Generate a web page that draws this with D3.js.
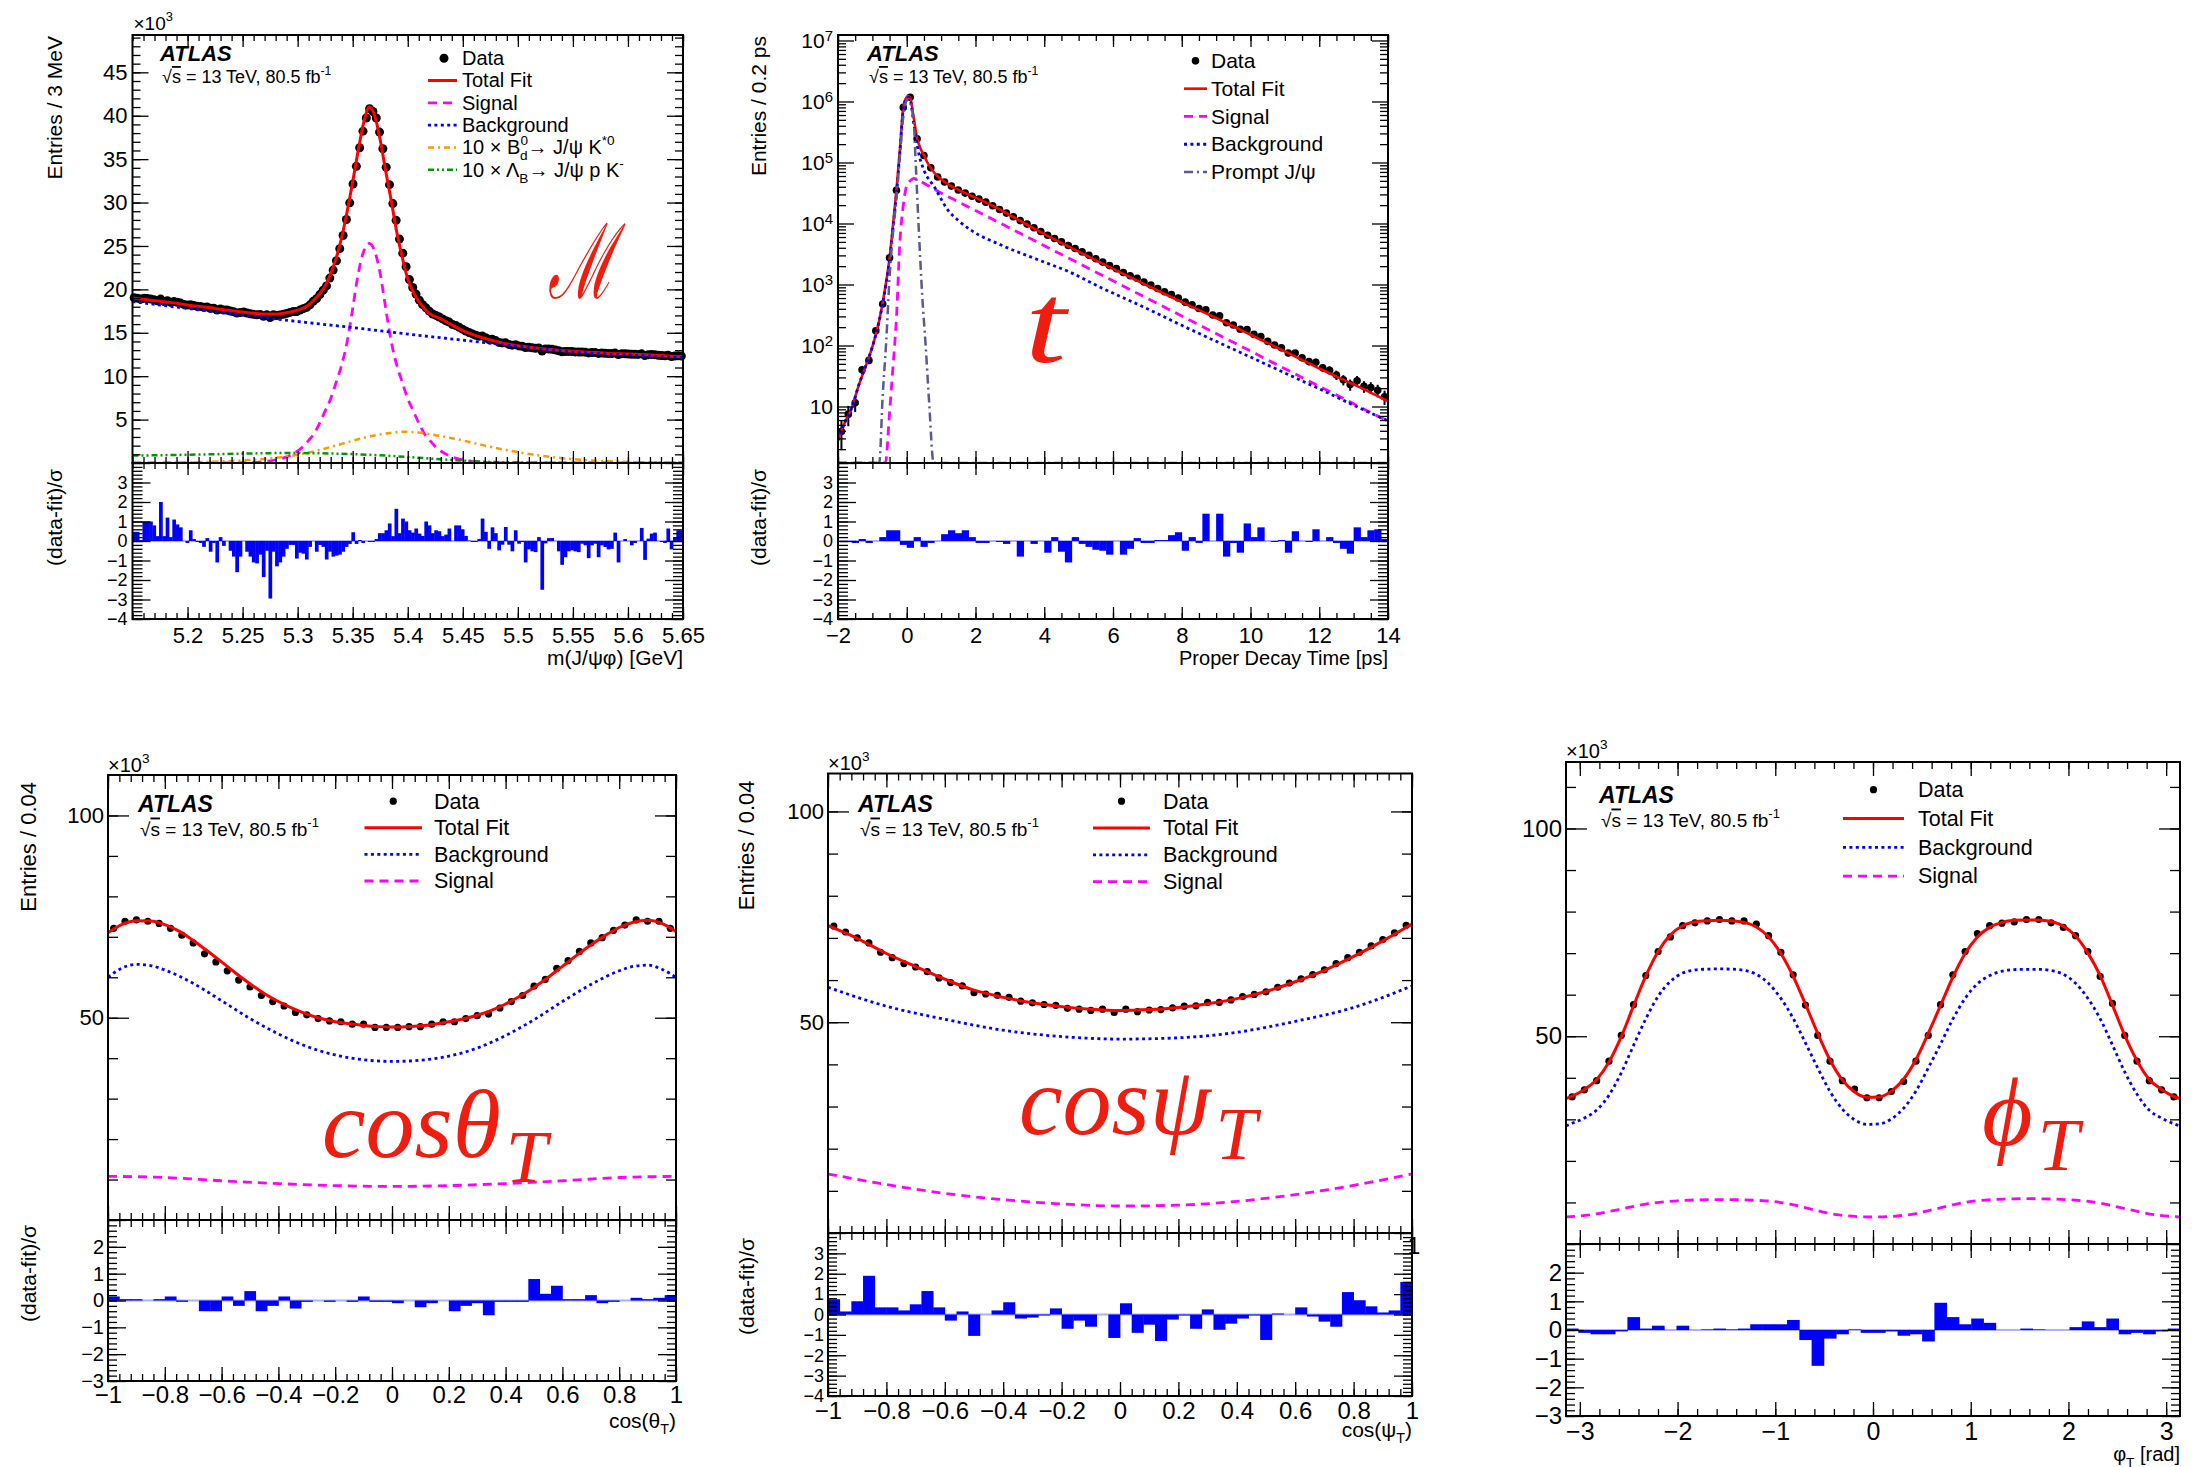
<!DOCTYPE html>
<html>
<head>
<meta charset="utf-8">
<script src="https://cdn.jsdelivr.net/npm/d3@7"></script>
<style>
  body { margin: 0; background: #fff; }
  svg text { font-family: 'Liberation Sans', Arial, Helvetica, sans-serif; fill: #000; }
</style>
</head>
<body>
<script>
// ---------------- m(J/psi phi) ----------------
const massRange = [5.15, 5.65];
const massData = [19.04,18.99,18.89,18.98,18.94,18.89,18.81,18.69,18.88,18.60,
  18.69,18.51,18.59,18.51,18.42,18.27,18.20,18.23,18.13,18.06,
  18.02,17.94,17.96,17.82,17.82,17.62,17.74,17.63,17.62,17.50,
  17.42,17.27,17.33,17.39,17.28,17.19,17.12,17.07,17.10,16.91,
  17.08,16.76,17.08,16.99,17.06,17.14,17.23,17.35,17.44,17.44,
  17.61,17.78,17.92,18.22,18.62,18.93,19.40,19.91,20.40,21.30,
  22.22,23.30,24.69,26.21,28.05,29.97,32.14,34.17,36.31,38.22,
  39.74,40.81,40.49,39.74,38.12,36.20,34.06,32.06,29.88,27.95,
  25.79,24.17,22.60,21.13,20.21,19.46,18.76,18.24,17.87,17.49,
  17.16,17.00,16.82,16.60,16.39,16.23,15.94,15.83,15.64,15.42,
  15.21,15.03,14.87,14.72,14.61,14.62,14.43,14.21,14.24,14.10,
  13.89,13.83,13.84,13.66,13.57,13.63,13.49,13.45,13.29,13.32,
  13.27,13.21,13.26,12.90,13.14,13.13,13.09,13.03,12.93,12.82,
  12.84,12.85,12.84,12.80,12.78,12.79,12.77,12.68,12.73,12.72,
  12.62,12.66,12.64,12.60,12.60,12.67,12.49,12.59,12.58,12.56,
  12.52,12.52,12.51,12.57,12.37,12.48,12.49,12.48,12.41,12.38,
  12.35,12.41,12.27,12.32,12.34,12.32];
const massPull = [0.47,0.47,0.05,1.0,1.0,1.0,0.8,0.25,2.0,0.25,
  1.2,0.2,1.1,0.85,0.7,0,-0.1,0.55,0.1,-0.05,
  -0.1,-0.3,0.15,-0.55,-0.1,-1.1,0.2,-0.25,0,-0.5,
  -0.8,-1.6,-0.8,0,-0.55,-0.8,-1.1,-1.15,-0.7,-1.85,
  -0.5,-2.95,-0.55,-1.3,-1.1,-0.8,-0.4,-0.2,-0.2,-0.9,
  -0.6,-0.65,-0.95,-0.3,0,-0.55,-0.2,-0.3,-0.95,-0.55,
  -0.8,-0.75,-0.7,-0.55,-0.3,-0.15,0.45,-0.15,0.05,-0.1,
  0,-0.05,-0.05,0.1,0.4,0.4,0.55,0.9,0.25,1.65,
  0.4,1.15,1.0,0.55,0.43,0.64,0.38,0.26,1.0,0.8,
  0.4,0.55,0.5,0.25,0.33,0.64,0,0.8,0.8,0.6,
  0.26,0.02,-0.05,-0.05,0.1,1.15,0.47,-0.4,0.7,0.4,
  -0.48,-0.19,0.72,-0.19,-0.53,0.55,-0.14,-0.05,-1.1,-0.43,
  -0.53,-0.57,0.2,-2.5,-0.12,0.15,0.15,0,-0.53,-1.22,
  -0.83,-0.53,-0.48,-0.53,-0.57,-0.14,-0.22,-0.88,-0.22,-0.14,
  -0.83,-0.22,-0.31,-0.43,-0.4,0.43,-1.1,0,0.1,0,
  -0.22,-0.1,0,0.67,-0.97,0.12,0.38,0.43,0,-0.05,
  -0.1,0.64,-0.43,0.2,0.55,0.55];
const massFitX = [5.15,5.16,5.17,5.18,5.19,5.20,5.21,5.22,5.23,5.24,5.25,5.26,5.27,5.28,5.29,5.30,
  5.31,5.315,5.32,5.325,5.33,5.335,5.34,5.345,5.35,5.355,5.36,5.365,5.37,5.375,5.38,5.385,5.39,5.395,
  5.40,5.405,5.41,5.415,5.42,5.43,5.44,5.45,5.46,5.47,5.48,5.49,5.50,5.52,5.54,5.56,5.58,5.60,5.62,5.64,5.65];
const massFit = [19.0,18.85,18.7,18.55,18.4,18.2,18.05,17.9,17.7,17.55,17.4,17.25,17.15,17.15,17.3,17.6,
  18.2,18.8,19.5,20.4,21.8,23.6,26.0,29.0,32.4,36.0,39.2,41.0,40.0,37.2,33.6,30.2,26.6,23.7,
  21.2,19.7,18.6,17.8,17.2,16.6,15.9,15.25,14.75,14.35,14.0,13.7,13.5,13.2,12.95,12.8,12.65,12.55,12.45,12.3,12.25];
const massSigX = [5.15,5.245,5.265,5.275,5.285,5.295,5.305,5.31,5.315,5.32,5.325,5.33,5.335,5.34,5.345,5.35,5.355,5.36,
  5.365,5.37,5.375,5.38,5.385,5.39,5.395,5.40,5.405,5.41,5.415,5.42,5.425,5.435,5.445,5.455,5.465,5.485,5.65];
const massSig = [0,0.02,0.1,0.25,0.5,1.0,1.9,2.6,3.4,4.6,6.0,7.4,9.3,11.3,14.0,17.8,21.8,24.4,
  25.3,24.4,21.8,17.8,14.0,11.3,9.3,7.4,6.0,4.6,3.4,2.6,1.9,1.0,0.5,0.25,0.1,0.02,0];
const massBkgX = [5.15,5.2,5.25,5.3,5.35,5.4,5.45,5.5,5.55,5.6,5.65];
const massBkg = [18.6,17.8,17.05,16.3,15.6,14.85,14.15,13.45,12.8,12.45,12.15];
const massBdX = [5.15,5.2,5.25,5.28,5.3,5.32,5.34,5.36,5.38,5.395,5.41,5.43,5.45,5.47,5.5,5.53,5.56,5.6,5.65];
const massBd = [0.02,0.08,0.3,0.6,0.95,1.5,2.2,2.9,3.4,3.6,3.5,3.1,2.6,2.0,1.25,0.7,0.35,0.12,0.03];
const massLbX = [5.15,5.2,5.25,5.29,5.32,5.35,5.38,5.41,5.44,5.47,5.5,5.55,5.65];
const massLb = [0.85,0.95,1.08,1.15,1.12,1.02,0.85,0.6,0.35,0.15,0.06,0.01,0];
const massXTicks = [5.2,5.25,5.3,5.35,5.4,5.45,5.5,5.55,5.6,5.65];
const massYTicks = [5,10,15,20,25,30,35,40,45];

// ---------------- proper decay time ----------------
const timeRange = [-2, 14];
const timeData = [3.9,7.5,11.5,40,57,175,480,2750,35000,800000,
  1170000,245000,130000,82000,58000,48000,41000,35500,31500,28000,
  25100,22400,19500,17000,14800,12900,11150,9770,8510,7410,
  6430,5690,5000,4350,3890,3430,3010,2650,2330,2040,
  1820,1575,1395,1265,1100,977,861,759,684,600,
  514,466,405,386,316,306,236,217,185,182,
  152,140,117,102,91.6,75.2,75.2,63.1,54.6,53.3,
  43.2,39.3,32.9,27.4,22.9,26.5,21.4,20.5,18.4,14.4];
const timePull = [0,0,-0.1,0.1,-0.1,0,0.2,0.55,0.55,-0.2,
  -0.35,0.2,-0.3,-0.1,0,0.35,0.55,0.4,0.55,0.2,
  -0.1,-0.1,0,-0.05,-0.15,0,-0.8,0,-0.15,0,
  -0.6,0.2,-0.55,-1.1,0.2,-0.15,-0.3,-0.45,-0.5,-0.7,
  0,-0.7,-0.4,0.15,-0.1,-0.1,0.05,0.05,0.3,0.45,
  -0.5,0.2,-0.1,1.4,0,1.4,-0.8,-0.1,-0.6,0.9,
  0.2,0.7,0,-0.05,0.05,-0.6,0.5,0,-0.05,0.6,
  0,0.2,-0.1,-0.4,-0.65,0.7,0.2,0.55,0.6,0.1];
const timeFitX = [-2,-1.8,-1.6,-1.4,-1.2,-1.0,-0.8,-0.6,-0.5,-0.4,-0.3,-0.2,-0.1,0,0.05,0.1,0.2,0.3,0.4,0.5,0.6,0.8,1.0,1.25,1.5,2,2.5,3,4,5,6,7,8,9,10,11,12,13,14];
const timeFit = [2.8,5.5,9.5,22,45,95,260,1100,2700,9500,35000,160000,800000,1180000,1230000,1150000,550000,250000,170000,130000,100000,68000,53000,42000,35500,26500,19500,13700,6700,3450,1800,960,515,282,150,80,42,23,12.2];
const timeBkgX = [-2,-1.8,-1.6,-1.4,-1.2,-1.0,-0.8,-0.6,-0.5,-0.4,-0.3,-0.2,-0.1,0,0.05,0.1,0.2,0.35,0.5,0.8,1.2,1.5,1.85,2.8,3.8,4.75,5.6,7,8,9,10,11,12,13,14];
const timeBkg = [2.8,5.5,9.5,22,45,95,255,1050,2500,8500,30000,145000,740000,1130000,1170000,1080000,450000,140000,75000,40000,16500,11200,7900,4300,2570,1590,920,400,214,117,64.6,35.5,19.5,10.5,5.8];
const timeSigX = [-2,-0.7,-0.62,-0.5,-0.4,-0.3,-0.2,-0.1,0,0.1,0.2,0.3,0.5,0.75,1,1.5,2,3,4,5,6,7,8,9,10,11,12,13,14];
const timeSig = [0.001,0.001,1.2,8,45,280,5000,20000,42000,50000,55000,53000,45700,38000,31600,22700,16300,8400,4330,2230,1150,592,305,157,81,41.7,21.5,11.1,5.7];
const timePromptX = [-2,-0.9,-0.8,-0.7,-0.6,-0.5,-0.4,-0.3,-0.2,-0.1,0,0.05,0.1,0.2,0.26,0.35,0.45,0.55,0.65,0.78,0.9,14];
const timePrompt = [0.001,0.001,1.2,15,110,1300,7000,26000,125000,560000,1050000,1100000,950000,500000,100000,8000,660,100,12,1.2,0.001,0.001];
const timeXTicks = [-2,0,2,4,6,8,10,12,14];
const timeYTicks = [10,1e2,1e3,1e4,1e5,1e6,1e7];

// ---------------- cos(theta_T) ----------------
const cthData = [72.1,73.85,74.2,73.85,73.3,72.1,70.4,68.5,65.8,63.8,
  61.6,59.3,57.6,55.5,54.0,52.9,51.3,50.7,49.8,49.2,
  49.0,48.4,48.4,47.6,47.6,47.6,47.8,47.8,48.4,49.0,
  49.0,49.8,50.5,50.9,52.4,54.0,55.5,57.8,59.5,62.2,
  64.1,66.4,68.5,69.8,71.6,72.9,74.2,73.85,73.85,72.1];
const cthPull = [0.15,0.05,0.05,0,0.05,0.15,-0.05,0,-0.4,-0.4,
  0.15,-0.2,0.35,-0.4,-0.2,0.15,-0.3,-0.05,0,-0.05,
  0,-0.05,0.15,-0.05,-0.05,-0.1,0,-0.25,-0.1,0,
  -0.4,-0.2,-0.1,-0.55,-0.05,-0.05,-0.05,0.8,0.25,0.55,
  0.05,0.05,0.2,-0.1,-0.05,0,0.1,0.05,0.1,0.2];
const cthFitX = [-1,-0.95,-0.9,-0.85,-0.8,-0.75,-0.7,-0.65,-0.6,-0.55,-0.5,-0.45,-0.4,-0.35,-0.3,-0.25,-0.2,-0.15,-0.1,-0.05,
  0,0.05,0.1,0.15,0.2,0.25,0.3,0.35,0.4,0.45,0.5,0.55,0.6,0.65,0.7,0.75,0.8,0.85,0.9,0.95,1];
const cthFit = [71.0,73.1,74.0,73.9,73.0,71.4,69.1,66.5,63.8,61.0,58.4,56.0,54.0,52.3,50.9,49.8,49.0,48.5,48.1,47.8,
  47.7,47.8,48.0,48.4,49.0,49.7,50.6,51.8,53.4,55.3,57.5,60.0,62.7,65.4,68.0,70.3,72.3,73.6,74.1,73.3,71.3];
const cthBkgX = [-1,-0.95,-0.9,-0.85,-0.8,-0.7,-0.6,-0.5,-0.4,-0.3,-0.2,-0.1,0,0.1,0.2,0.3,0.4,0.5,0.6,0.7,0.8,0.85,0.9,0.95,1];
const cthBkg = [60.0,62.3,63.2,62.9,61.8,58.5,54.2,49.8,46.0,42.9,40.8,39.6,39.2,39.5,40.5,42.5,45.6,49.5,54.0,58.2,61.6,62.7,63.0,62.0,60.0];
const cthSigX = [-1,-0.8,-0.6,-0.4,-0.2,0,0.2,0.4,0.6,0.8,1];
const cthSig = [10.8,10.5,9.7,9.0,8.5,8.3,8.5,9.0,9.7,10.5,10.8];

// ---------------- cos(psi_T) ----------------
const cpsData = [72.8,71.4,70.0,68.8,66.6,65.3,63.9,63.1,62.0,60.5,
  59.4,58.6,57.0,56.7,56.4,55.9,55.0,54.6,54.2,54.0,
  53.3,53.1,52.8,53.1,52.3,53.1,52.5,52.9,53.0,53.4,
  53.8,53.9,54.7,54.7,55.3,56.1,56.6,57.2,58.3,59.3,
  60.3,61.3,62.4,63.9,65.3,66.6,68.1,69.6,71.2,73.0];
const cpsPull = [0.75,0.15,0.65,1.9,0.35,0.35,0.2,0.5,1.15,0.35,
  -0.3,0.15,-1.05,0,0.2,0.6,-0.2,-0.15,-0.05,0.3,
  -0.7,-0.3,-0.6,0,-1.15,0.55,-0.9,-0.5,-1.3,-0.25,
  -0.05,-0.7,0.25,-0.75,-0.45,-0.2,-0.05,-1.25,0.05,0,
  0.35,-0.1,-0.35,-0.6,1.1,0.7,0.4,0.1,0.2,1.6];
const cpsFitX = [-1,-0.9,-0.8,-0.7,-0.6,-0.5,-0.4,-0.3,-0.2,-0.1,0,0.1,0.2,0.3,0.4,0.5,0.6,0.7,0.8,0.9,1];
const cpsFit = [72.9,69.9,66.3,63.2,60.2,57.6,55.9,54.6,53.7,53.1,52.8,53.0,53.5,54.4,55.6,57.3,59.6,62.3,65.6,69.3,73.3];
const cpsBkgX = [-1,-0.8,-0.6,-0.4,-0.2,0,0.2,0.4,0.6,0.8,1];
const cpsBkg = [58.3,53.8,50.7,48.1,46.6,46.0,46.3,47.6,50.2,53.5,58.6];
const cpsSigX = [-1,-0.8,-0.6,-0.4,-0.2,0,0.2,0.4,0.6,0.8,1];
const cpsSig = [14.0,11.5,9.4,7.9,6.9,6.4,6.6,7.5,9.1,11.3,14.0];

// ---------------- phi_T ----------------
const phiRange = [-Math.PI, Math.PI];
const phiData = [35.4,37.1,39.3,44.0,50.2,57.6,64.6,70.4,73.9,76.6,
  77.3,77.75,78.1,77.75,77.75,77.0,74.2,70.2,64.8,57.5,
  50.2,44.0,39.3,37.3,35.2,35.2,36.7,39.1,44.0,50.2,
  57.6,64.8,70.4,74.7,76.6,77.2,77.5,78.1,78.1,77.3,
  76.2,74.2,70.4,64.4,57.9,50.2,44.0,39.3,37.1,35.4];
const phiPull = [0.05,-0.1,-0.15,-0.15,-0.05,0.45,0.05,0.15,0,0.15,
  0,0.02,0.05,0.02,0.05,0.2,0.2,0.2,0.35,-0.35,
  -1.25,-0.3,-0.15,0.02,-0.1,-0.1,-0.05,-0.2,-0.15,-0.4,
  0.95,0.45,0.2,0.4,0.25,0,0,0.05,0.02,0,
  0,0.1,0.3,0.1,0.4,-0.15,-0.1,-0.15,-0.05,0.05];
// fit and background: value at the left edge, at each bin centre, at the right edge
const phiFit = [35.0,35.6,37.2,39.6,43.8,49.9,57.3,64.5,70.4,74.4,76.6,
  77.5,77.8,77.9,77.8,77.4,76.3,73.9,69.9,64.4,57.7,
  50.7,44.3,39.5,36.6,35.3,35.4,36.8,39.7,44.4,50.7,
  57.4,64.2,69.9,73.9,76.2,77.4,77.9,78.0,78.0,77.6,
  76.5,74.1,70.0,64.6,57.5,50.2,44.1,39.6,37.2,35.5,35.0];
const phiBkg = [28.4,29.05,30.3,32.25,35.8,41.2,47.8,54.2,59.6,63.2,65.2,
  65.95,66.15,66.2,66.15,65.85,64.9,62.7,59.1,54.3,48.4,
  42.35,36.7,32.5,29.9,28.8,28.9,30.1,32.7,36.8,42.35,
  48.1,54.1,59.1,62.6,64.6,65.65,66.05,66.1,66.1,65.8,
  64.9,62.75,59.1,54.2,47.9,41.4,36.05,32.2,30.3,28.95,28.4];
const phiSigX = [-Math.PI,-2.9,-2.6,-2.3,-2.0,-1.57,-1.1,-0.85,-0.6,-0.35,0,0.35,0.6,0.85,1.1,1.6,2.1,2.35,2.6,2.9,Math.PI];
const phiSig = [6.5,7.0,8.3,9.7,10.4,10.7,10.4,9.6,8.2,7.0,6.5,7.0,8.2,9.6,10.5,10.9,10.5,9.7,8.4,7.0,6.5];

const cosXTicks = [-1,-0.8,-0.6,-0.4,-0.2,0,0.2,0.4,0.6,0.8,1];
const phiXTicks = [-3,-2,-1,0,1,2,3];
const angYTicks = [50,100];
const pullTicks4 = [3,2,1,0,-1,-2,-3,-4];
const pullTicks3 = [2,1,0,-1,-2,-3];

// ---------------- drawing ----------------
const RED = '#ee1d0f';
const SERIF = "'Liberation Serif','Times New Roman',serif";
const ST = {
  fit: { c: '#ff0000', w: 3 },
  sig: { c: '#ff00ff', w: 2.8, d: '9,6' },
  bkg: { c: '#0000ff', w: 2.8, d: '3,3.4' },
  bd: { c: '#ff9900', w: 2.5, d: '6,4,2,4' },
  lb: { c: '#009900', w: 2.5, d: '6,3,2,3,2,3' },
  prompt: { c: '#5a5a8c', w: 2.5, d: '9,4,2,4' }
};

const svg = d3.select('body').append('svg').attr('width', 2209).attr('height', 1467);
let clipN = 0;

function clip(x0, y0, w, h) {
  const id = 'clip' + (++clipN);
  svg.append('clipPath').attr('id', id).append('rect')
    .attr('x', x0).attr('y', y0).attr('width', w).attr('height', h);
  return `url(#${id})`;
}

// text with sub/superscripts: parts are strings or {t, sup, sub, dx, over}
function rich(t, parts) {
  const fs = +t.attr('font-size');
  let cur = 0;
  parts.forEach(p => {
    if (typeof p === 'string') p = { t: p };
    const target = p.sup ? -0.45 : p.sub ? 0.3 : 0;
    const ts = t.append('tspan').text(p.t).attr('dy', (target - cur) * fs);
    if (p.sup || p.sub) ts.attr('font-size', fs * 0.68);
    if (p.dx) ts.attr('dx', p.dx);
    if (p.over) ts.style('text-decoration', 'overline');
    cur = target;
  });
  return t;
}

function text(g, x, y, fs, parts, anchor) {
  const t = g.append('text').attr('x', x).attr('y', y).attr('font-size', fs)
    .attr('text-anchor', anchor || 'start');
  return rich(t, parts);
}

function ytitle(g, x, y, fs, parts) {
  const t = g.append('text').attr('transform', `translate(${x},${y}) rotate(-90)`)
    .attr('font-size', fs).attr('text-anchor', 'end');
  return rich(t, parts);
}

// frame with inward ticks on all four sides
function frame(g, x, y, o) {
  const [xl, xr] = x.range(), [yb, yt] = y.range();
  const put = (axis, tx, ty) => {
    const a = g.append('g').attr('transform', `translate(${tx},${ty})`).call(axis);
    a.select('.domain').remove();
    a.selectAll('line').attr('stroke', '#000').attr('stroke-width', 1.3);
  };
  [[d3.axisBottom, yb], [d3.axisTop, yt]].forEach(([f, ty]) => {
    put(f(x).tickValues(o.xMin).tickSize(-o.xLen[1]).tickFormat(''), 0, ty);
    put(f(x).tickValues(o.xMaj).tickSize(-o.xLen[0]).tickFormat(''), 0, ty);
  });
  [[d3.axisLeft, xl], [d3.axisRight, xr]].forEach(([f, tx]) => {
    put(f(y).tickValues(o.yMin).tickSize(-o.yLen[1]).tickFormat(''), tx, 0);
    put(f(y).tickValues(o.yMaj).tickSize(-o.yLen[0]).tickFormat(''), tx, 0);
  });
  g.append('rect').attr('x', xl).attr('y', yt).attr('width', xr - xl).attr('height', yb - yt)
    .attr('fill', 'none').attr('stroke', '#000').attr('stroke-width', 2);
}

function labelAxis(g, axis, tx, ty, fs) {
  const a = g.append('g').attr('transform', `translate(${tx},${ty})`).call(axis);
  a.select('.domain').remove();
  a.selectAll('line').remove();
  a.selectAll('text').attr('font-size', fs).attr('font-family', null).attr('fill', '#000');
  return a;
}

function curve(g, xs, ys, x, y, st, cp) {
  g.append('path').datum(xs.map((v, i) => [v, ys[i]]))
    .attr('d', d3.line().x(d => x(d[0])).y(d => y(d[1])).curve(d3.curveMonotoneX))
    .attr('fill', 'none').attr('stroke', st.c).attr('stroke-width', st.w)
    .attr('stroke-dasharray', st.d || null).attr('clip-path', cp);
}

function dots(g, vals, range, x, y, r) {
  const w = (range[1] - range[0]) / vals.length;
  g.append('g').selectAll('circle').data(vals).join('circle')
    .attr('cx', (d, i) => x(range[0] + (i + 0.5) * w)).attr('cy', d => y(d))
    .attr('r', r).attr('fill', '#000');
}

function pulls(g, vals, range, x, yr, cp) {
  const w = (range[1] - range[0]) / vals.length;
  g.append('line').attr('x1', x.range()[0]).attr('x2', x.range()[1])
    .attr('y1', yr(0)).attr('y2', yr(0)).attr('stroke', '#aab2ff').attr('stroke-width', 2);
  g.append('g').attr('clip-path', cp).selectAll('rect').data(vals).join('rect')
    .attr('x', (d, i) => x(range[0] + i * w))
    .attr('width', (d, i) => x(range[0] + (i + 1) * w) - x(range[0] + i * w) + 0.4)
    .attr('y', d => Math.min(yr(0), yr(d)))
    .attr('height', d => Math.abs(yr(d) - yr(0)))
    .attr('fill', '#0000ff');
}

function legend(g, items, o) {
  items.forEach((it, i) => {
    const by = o.y0 + i * o.dy, my = by - o.fs * 0.34;
    if (it.dot) {
      g.append('circle').attr('cx', o.dotX).attr('cy', my).attr('r', it.dot).attr('fill', '#000');
    } else {
      g.append('line').attr('x1', o.x0).attr('x2', o.x1).attr('y1', my).attr('y2', my)
        .attr('stroke', it.st.c).attr('stroke-width', it.st.w).attr('stroke-dasharray', it.st.d || null);
    }
    text(g, o.tx, by, o.fs, it.label);
  });
}

function atlas(g, x, y, fs, fs2, dy) {
  g.append('text').attr('x', x).attr('y', y).attr('font-size', fs)
    .attr('font-weight', 'bold').attr('font-style', 'italic').text('ATLAS');
  text(g, x + 2, y + dy, fs2, ['√', { t: 's', over: 1 }, ' = 13 TeV, 80.5 fb', { t: '-1', sup: 1 }]);
}

// big red variable name in serif italic, with optional subscript T
function tag(g, x, y, fs, main, sub, sx) {
  const t = g.append('text').attr('transform', `translate(${x},${y}) scale(${sx || 1},1)`)
    .attr('font-size', fs).attr('font-style', 'italic')
    .style('font-family', SERIF).style('fill', RED);
  t.append('tspan').text(main);
  if (sub) t.append('tspan').attr('font-size', fs * 0.76).attr('dx', fs * 0.05).attr('dy', fs * 0.25).text(sub);
  return t;
}

const fmtCos = d => Number.isInteger(d) ? d3.format('d')(d) : d3.format('.1f')(d);
const fmtInt = d3.format('d');

// ================= panel 1: mass =================
{
  const L = 132.5, R = 683, T = 35, S = 463, B = 619;
  const g = svg.append('g');
  const x = d3.scaleLinear(massRange, [L, R]);
  const y = d3.scaleLinear([0, 49.3], [S, T]);
  const yr = d3.scaleLinear([-4, 4], [B, S]);
  const cm = clip(L, T, R - L, S - T), cr = clip(L, S, R - L, B - S);

  dots(g, massData, massRange, x, y, 4.5);
  curve(g, massFitX, massFit, x, y, ST.fit, cm);
  curve(g, massSigX, massSig, x, y, ST.sig, cm);
  curve(g, massBkgX, massBkg, x, y, ST.bkg, cm);
  curve(g, massBdX, massBd, x, y, ST.bd, cm);
  curve(g, massLbX, massLb, x, y, ST.lb, cm);
  pulls(g, massPull, massRange, x, yr, cr);

  const xMin = d3.range(5.15, 5.6501, 0.01);
  frame(g, x, y, { xMaj: massXTicks, xMin, xLen: [12, 6], yMaj: massYTicks, yMin: d3.range(1, 50), yLen: [16, 8] });
  frame(g, x, yr, { xMaj: massXTicks, xMin, xLen: [12, 6], yMaj: d3.range(-4, 5), yMin: d3.range(-4, 4.01, 0.2), yLen: [18, 10] });

  labelAxis(g, d3.axisLeft(y).tickValues(massYTicks).tickSize(0).tickPadding(5), L, 0, 22);
  labelAxis(g, d3.axisLeft(yr).tickValues(pullTicks4).tickSize(0).tickPadding(5).tickFormat(fmtInt), L, 0, 18);
  labelAxis(g, d3.axisBottom(x).tickValues(massXTicks).tickSize(0).tickPadding(8).tickFormat(d3.format('~g')), 0, B, 22);

  text(g, L + 1, 30, 19, ['×10', { t: '3', sup: 1 }]);
  ytitle(g, 62, 36, 21, ['Entries / 3 MeV']);
  ytitle(g, 62, 469, 21, ['(data-fit)/σ']);
  text(g, R, 665, 21, ['m(J/ψφ) [GeV]'], 'end');

  atlas(g, 160, 61, 22, 18, 22);
  legend(g, [
    { dot: 4.5, label: ['Data'] },
    { st: ST.fit, label: ['Total Fit'] },
    { st: ST.sig, label: ['Signal'] },
    { st: ST.bkg, label: ['Background'] },
    { st: ST.bd, label: ['10 × B', { t: '0', sup: 1 }, { t: 'd', sub: 1, dx: -8 }, '→ J/ψ K', { t: '*0', sup: 1 }] },
    { st: ST.lb, label: ['10 × Λ', { t: 'B', sub: 1 }, '→ J/ψ p K', { t: '-', sup: 1 }] }
  ], { y0: 65, dy: 22.3, fs: 20, x0: 428, x1: 457, dotX: 444, tx: 462 });

  // script M for the mass
  g.append('text').attr('transform', 'translate(548,298) scale(0.56,1)').attr('font-size', 104)
    .attr('font-style', 'italic').style('fill', RED).text('ℳ');
}

// ================= panel 2: decay time =================
{
  const L = 838, R = 1388, T = 35, S = 463, B = 619;
  const g = svg.append('g');
  const x = d3.scaleLinear(timeRange, [L, R]);
  const y = d3.scaleLog([1.186, 1.23e7], [S, T]).clamp(true);
  const yr = d3.scaleLinear([-4, 4], [B, S]);
  const cm = clip(L, T, R - L, S - T + 1), cr = clip(L, S, R - L, B - S);

  // statistical error bars
  const w = (timeRange[1] - timeRange[0]) / timeData.length;
  g.append('g').selectAll('line').data(timeData).join('line')
    .attr('x1', (d, i) => x(timeRange[0] + (i + 0.5) * w)).attr('x2', (d, i) => x(timeRange[0] + (i + 0.5) * w))
    .attr('y1', d => y(Math.max(d - Math.sqrt(d), 1e-3))).attr('y2', d => y(d + Math.sqrt(d)))
    .attr('stroke', '#000').attr('stroke-width', 2);
  dots(g, timeData, timeRange, x, y, 3.8);
  curve(g, timeFitX, timeFit, x, y, { c: '#ff0000', w: 2.6 }, cm);
  curve(g, timeSigX, timeSig, x, y, ST.sig, cm);
  curve(g, timeBkgX, timeBkg, x, y, ST.bkg, cm);
  curve(g, timePromptX, timePrompt, x, y, ST.prompt, cm);
  pulls(g, timePull, timeRange, x, yr, cr);

  const yMin = [];
  for (let e = 0; e <= 6; e++) for (let k = 2; k <= 9; k++) yMin.push(k * Math.pow(10, e));
  const xMin = d3.range(-2, 14.01, 0.5);
  frame(g, x, y, { xMaj: timeXTicks, xMin, xLen: [12, 6], yMaj: timeYTicks, yMin, yLen: [16, 8] });
  frame(g, x, yr, { xMaj: timeXTicks, xMin, xLen: [12, 6], yMaj: d3.range(-4, 5), yMin: d3.range(-4, 4.01, 0.2), yLen: [18, 10] });

  labelAxis(g, d3.axisLeft(y).tickValues(timeYTicks).tickSize(0).tickPadding(5).tickFormat(''), L, 0, 21)
    .selectAll('text').each(function (d) {
      const t = d3.select(this);
      const e = Math.round(Math.log10(d));
      t.append('tspan').text('10');
      if (e > 1) t.append('tspan').attr('dy', '-0.45em').attr('font-size', 15).text(e);
    });
  labelAxis(g, d3.axisLeft(yr).tickValues(pullTicks4).tickSize(0).tickPadding(5).tickFormat(fmtInt), L, 0, 18);
  labelAxis(g, d3.axisBottom(x).tickValues(timeXTicks).tickSize(0).tickPadding(8).tickFormat(fmtInt), 0, B, 22);

  ytitle(g, 766, 36, 21, ['Entries / 0.2 ps']);
  ytitle(g, 766, 469, 21, ['(data-fit)/σ']);
  text(g, R, 665, 20, ['Proper Decay Time [ps]'], 'end');

  atlas(g, 867, 61, 22, 18, 22);
  legend(g, [
    { dot: 3.8, label: ['Data'] },
    { st: { c: '#ff0000', w: 2.6 }, label: ['Total Fit'] },
    { st: ST.sig, label: ['Signal'] },
    { st: ST.bkg, label: ['Background'] },
    { st: ST.prompt, label: ['Prompt J/ψ'] }
  ], { y0: 68, dy: 27.8, fs: 21, x0: 1184, x1: 1207, dotX: 1195.5, tx: 1211 });

  tag(g, 1025, 362, 114, 't', null, 1.3);
}

// ================= angular panels =================
function angular(o) {
  const { L, R, T, S, B } = o;
  const g = svg.append('g');
  const x = d3.scaleLinear(o.range, [L, R]);
  const y = d3.scaleLinear([0, o.yTop], [S, T]);
  const yr = d3.scaleLinear(o.rDom, [B, S]);
  const cm = clip(L, T, R - L, S - T), cr = clip(L, S, R - L, B - S);

  dots(g, o.data, o.range, x, y, 3.6);
  curve(g, o.fitX, o.fit, x, y, ST.fit, cm);
  curve(g, o.bkgX, o.bkg, x, y, ST.bkg, cm);
  curve(g, o.sigX, o.sig, x, y, ST.sig, cm);
  pulls(g, o.pull, o.range, x, yr, cr);

  frame(g, x, y, { xMaj: o.xTicks, xMin: o.xMin, xLen: [14, 7], yMaj: angYTicks, yMin: d3.range(10, o.yTop, 10), yLen: [21, 10] });
  frame(g, x, yr, { xMaj: o.xTicks, xMin: o.xMin, xLen: [14, 7], yMaj: d3.range(o.rDom[0], o.rDom[1] + 1), yMin: d3.range(o.rDom[0], o.rDom[1] + 0.01, 0.2), yLen: [18, 9] });

  labelAxis(g, d3.axisLeft(y).tickValues(angYTicks).tickSize(0).tickPadding(4), L, 0, o.yfs);
  labelAxis(g, d3.axisLeft(yr).tickValues(o.rTicks).tickSize(0).tickPadding(4).tickFormat(fmtInt), L, 0, o.rfs);
  labelAxis(g, d3.axisBottom(x).tickValues(o.xTicks).tickSize(0).tickPadding(o.xpad).tickFormat(o.fmt), 0, B, o.xfs);

  text(g, L, o.expY, 20, ['×10', { t: '3', sup: 1 }]);
  if (o.ytX) {
    ytitle(g, o.ytX, T + 7, 22, ['Entries / 0.04']);
    ytitle(g, o.ytX, S + 5, 21, ['(data-fit)/σ']);
  }
  text(g, R, o.xtY, o.xtfs || 21, o.xTitle, 'end');

  atlas(g, o.atX, o.atY, 23, 19, 23.5);
  legend(g, [
    { dot: 3.6, label: ['Data'] },
    { st: ST.fit, label: ['Total Fit'] },
    { st: ST.bkg, label: ['Background'] },
    { st: ST.sig, label: ['Signal'] }
  ], { y0: o.lgY, dy: o.lgDy, fs: 21.5, x0: o.lgX0, x1: o.lgX1, dotX: (o.lgX0 + o.lgX1) / 2, tx: o.lgTx });

  tag(g, o.ann[0], o.ann[1], o.ann[2], o.annText, 'T');
  return g;
}

const binCentres = (range, n) => d3.range(n).map(i => range[0] + (i + 0.5) * (range[1] - range[0]) / n);

angular({
  L: 108, R: 676, T: 775, S: 1220, B: 1381, range: [-1, 1], yTop: 110, rDom: [-3, 3], rTicks: pullTicks3,
  data: cthData, pull: cthPull, fitX: cthFitX, fit: cthFit, bkgX: cthBkgX, bkg: cthBkg, sigX: cthSigX, sig: cthSig,
  xTicks: cosXTicks, xMin: d3.range(-1, 1.001, 0.04), fmt: fmtCos, xfs: 24, yfs: 22, rfs: 20, xpad: 5,
  expY: 772, ytX: 36, xtY: 1428, xTitle: ['cos(θ', { t: 'T', sub: 1 }, ')'],
  atX: 138, atY: 812, lgY: 808.5, lgDy: 26.6, lgX0: 364.5, lgX1: 422, lgTx: 434,
  ann: [322, 1157, 98], annText: 'cosθ'
});

const g4 = angular({
  L: 828, R: 1412, T: 773.5, S: 1233, B: 1396, range: [-1, 1], yTop: 109, rDom: [-4, 4], rTicks: pullTicks4,
  data: cpsData, pull: cpsPull, fitX: cpsFitX, fit: cpsFit, bkgX: cpsBkgX, bkg: cpsBkg, sigX: cpsSigX, sig: cpsSig,
  xTicks: cosXTicks, xMin: d3.range(-1, 1.001, 0.04), fmt: fmtCos, xfs: 24, yfs: 22, rfs: 18, xpad: 6,
  expY: 770, ytX: 754, xtY: 1437, xTitle: ['cos(ψ', { t: 'T', sub: 1 }, ')'],
  atX: 858, atY: 812, lgY: 808.5, lgDy: 26.8, lgX0: 1093, lgX1: 1150, lgTx: 1163,
  ann: [1019, 1134, 98], annText: 'cosψ'
});
text(g4, 1414, 1254, 23, ['1'], 'middle');

angular({
  L: 1566, R: 2180, T: 762, S: 1244, B: 1416, range: phiRange, yTop: 116, rDom: [-3, 3], rTicks: pullTicks3,
  data: phiData, pull: phiPull,
  fitX: [phiRange[0]].concat(binCentres(phiRange, 50), [phiRange[1]]), fit: phiFit,
  bkgX: [phiRange[0]].concat(binCentres(phiRange, 50), [phiRange[1]]), bkg: phiBkg,
  sigX: phiSigX, sig: phiSig,
  xTicks: phiXTicks, xMin: d3.range(-3, 3.001, 0.2), fmt: fmtInt, xfs: 25, yfs: 24, rfs: 24, xpad: 6,
  expY: 758, ytX: null, xtY: 1461, xtfs: 20, xTitle: ['φ', { t: 'T', sub: 1 }, ' [rad]'],
  atX: 1599, atY: 803, lgY: 797, lgDy: 28.8, lgX0: 1843, lgX1: 1904, lgTx: 1918,
  ann: [1982, 1145, 98], annText: 'ϕ'
});
</script>
</body>
</html>
